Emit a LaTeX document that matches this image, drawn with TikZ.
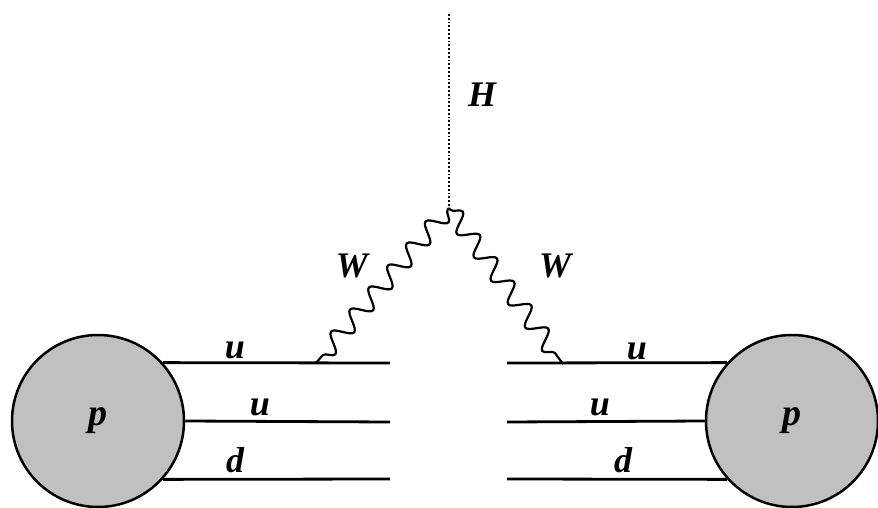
\documentclass[tikz,border=0pt]{standalone}
\usepackage{fontspec}
\setmainfont{Liberation Serif}
\usetikzlibrary{decorations.pathmorphing}
\definecolor{protgray}{RGB}{192,192,192}
\begin{document}
\begin{tikzpicture}[x=1pt,y=-1pt,
  proton/.style={circle,draw=black,line width=2.5pt,fill=protgray,minimum size=172pt,inner sep=0pt,
    font=\fontsize{38}{44}\selectfont\bfseries\itshape},
  quark/.style={line width=2.8pt},
  lbl/.style={font=\fontsize{36}{42}\selectfont\bfseries\itshape,inner sep=0pt},
  boson/.style={line width=2.2pt,decorate,decoration={snake,segment length=29pt,amplitude=9pt,pre length=2pt,post length=2pt}},
  higgs/.style={line width=1.8pt,dotted}]
\useasboundingbox (0,0) rectangle (878,508);
\node[proton] (pL) at (98,421) {p};
\node[proton] (pR) at (792,421) {p};
% quark free ends
\coordinate (Lu1) at (390,363);
\coordinate (Lu2) at (390,422);
\coordinate (Ld) at (390,479);
\coordinate (Ru1) at (507,363);
\coordinate (Ru2) at (507,422);
\coordinate (Rd) at (507,479);
\draw[quark] (pL.42) -- (Lu1);
\draw[quark] (pL.east) -- (Lu2);
\draw[quark] (pL.-42) -- (Ld);
\draw[quark] (pR.138) -- (Ru1);
\draw[quark] (pR.west) -- (Ru2);
\draw[quark] (pR.-138) -- (Rd);
% vertices
\coordinate (V) at (449,208);
\coordinate (WL) at (316,363);
\coordinate (WR) at (563,364);
\coordinate (Htop) at (449,14);
\draw[higgs] (Htop) -- (V);
\draw[boson] (V) -- (WL);
\draw[boson] (V) -- (WR);
% labels
\node[lbl] (lH) at (482,95) {H};
\node[lbl] (lWL) at (352,266) {W};
\node[lbl] (lWR) at (555,266) {W};
\node[lbl] (lLu1) at (235,350) {u};
\node[lbl] (lLu2) at (260,407) {u};
\node[lbl] (lLd) at (235,460) {d};
\node[lbl] (lRu1) at (637,351) {u};
\node[lbl] (lRu2) at (600,407) {u};
\node[lbl] (lRd) at (623,460) {d};
\end{tikzpicture}
\end{document}
